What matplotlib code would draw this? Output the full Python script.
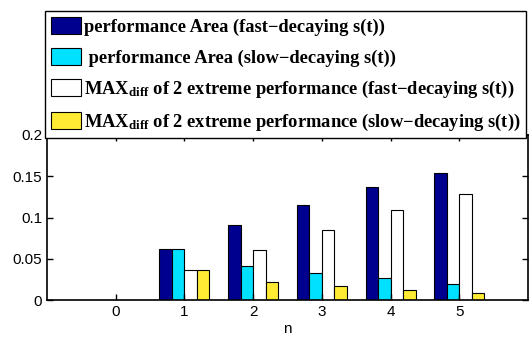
"""Grouped bar chart: performance area vs MAX_diff for fast/slow decaying s(t)."""

import matplotlib

matplotlib.use("Agg")
import matplotlib.pyplot as plt
import numpy as np

plt.rcParams["font.family"] = ["Liberation Sans", "DejaVu Sans"]
plt.rcParams["mathtext.fontset"] = "custom"
plt.rcParams["mathtext.rm"] = "Liberation Serif"
plt.rcParams["mathtext.bf"] = "Liberation Serif:bold"

n_values = [0, 1, 2, 3, 4, 5]
area_fast = [0.0, 0.062, 0.0912, 0.1155, 0.1368, 0.1545]
area_slow = [0.0, 0.062, 0.0418, 0.0332, 0.0262, 0.0197]
maxdiff_fast = [0.0, 0.036, 0.0602, 0.0852, 0.1085, 0.1285]
maxdiff_slow = [0.0, 0.036, 0.0217, 0.0164, 0.0127, 0.0087]

series = [area_fast, area_slow, maxdiff_fast, maxdiff_slow]
labels = [
    "performance Area (fast\u2212decaying s(t))",
    " performance Area (slow\u2212decaying s(t))",
    "$\\mathbf{MAX_{diff}}$ of 2 extreme performance (fast\u2212decaying s(t))",
    "$\\mathbf{MAX_{diff}}$ of 2 extreme performance (slow\u2212decaying s(t))",
]
colors = ["#00008F", "#00E0FF", "#FFFFFF", "#FFEB33"]
yticks = [0, 0.05, 0.1, 0.15, 0.2]
ytick_labels = ["0", "0.05", "0.1", "0.15", "0.2"]

fig = plt.figure(figsize=(5.32, 3.37), dpi=100)
ax = fig.add_axes([47 / 532, 1 - 300 / 337, 481 / 532, 165 / 337])

x = np.array(n_values, dtype=float)
bar_w = 0.182
offsets = (np.arange(len(series)) - 1.5) * bar_w
handles = []
for vals, off, col in zip(series, offsets, colors):
    h = ax.bar(x + off, vals, width=bar_w, color=col, edgecolor="black", linewidth=0.8)
    handles.append(h)

ax.set_xlim(-1, 6)
ax.set_ylim(0, 0.2)
ax.set_xticks(n_values)
ax.set_yticks(yticks, labels=ytick_labels)
ax.tick_params(direction="in", top=True, right=True, length=4, width=1, labelsize=11)
for spine in ax.spines.values():
    spine.set_linewidth(1.2)
ax.set_xlabel("n", fontsize=11, labelpad=2)

leg = fig.legend(
    handles,
    labels,
    loc="upper left",
    bbox_to_anchor=(45 / 532, 1 - 11 / 337),
    borderaxespad=0,
    fancybox=False,
    framealpha=1,
    edgecolor="black",
    prop={"family": "Liberation Serif", "weight": "bold", "size": 13.3},
    handlelength=1.66,
    handleheight=1.1,
    handletextpad=0.15,
    labelspacing=0.64,
    borderpad=0.3,
)
leg.get_frame().set_linewidth(1.0)

fig.savefig("out.png", dpi=100)
